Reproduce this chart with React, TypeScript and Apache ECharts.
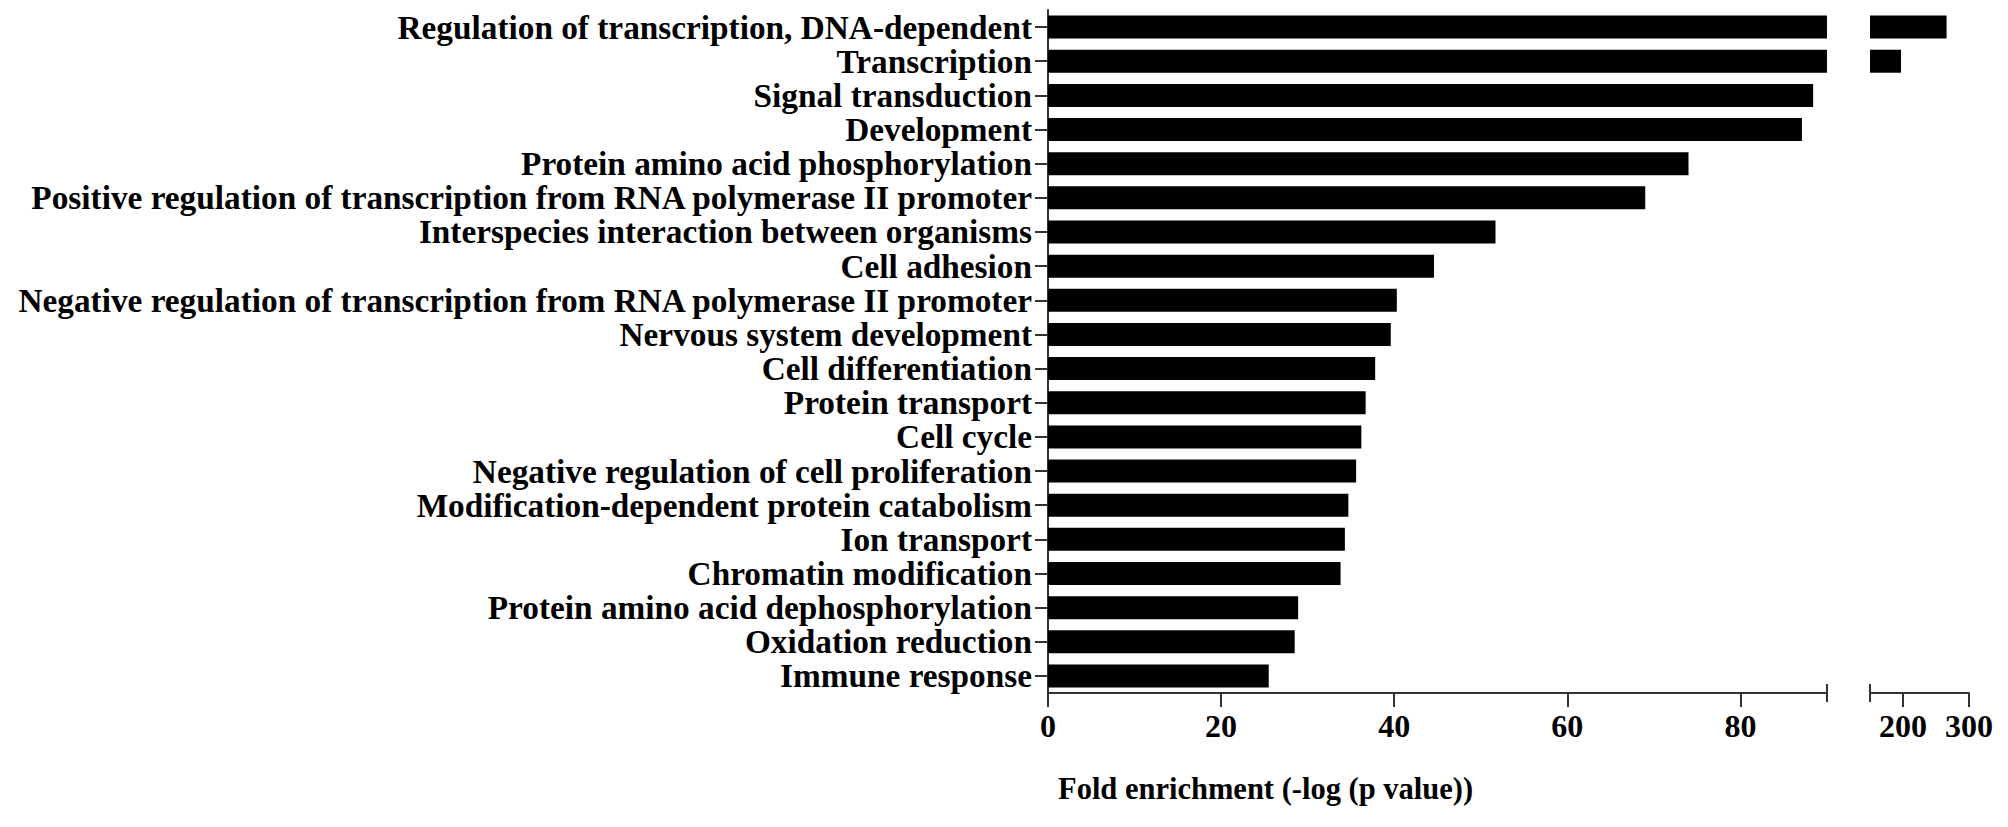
import React, { useEffect, useRef } from "react";
import * as echarts from "echarts";

const categories: string[] = [
  "Regulation of transcription, DNA-dependent",
  "Transcription",
  "Signal transduction",
  "Development",
  "Protein amino acid phosphorylation",
  "Positive regulation of transcription from RNA polymerase II promoter",
  "Interspecies interaction between organisms",
  "Cell adhesion",
  "Negative regulation of transcription from RNA polymerase II promoter",
  "Nervous system development",
  "Cell differentiation",
  "Protein transport",
  "Cell cycle",
  "Negative regulation of cell proliferation",
  "Modification-dependent protein catabolism",
  "Ion transport",
  "Chromatin modification",
  "Protein amino acid dephosphorylation",
  "Oxidation reduction",
  "Immune response",
];

const values: number[] = [
  266, 197, 88.4, 87.1, 74.0, 69.0, 51.7, 44.6, 40.3, 39.6, 37.8, 36.7, 36.2,
  35.6, 34.7, 34.3, 33.8, 28.9, 28.5, 25.5,
];

const leftTicks: number[] = [0, 20, 40, 60, 80];
const rightTicks: number[] = [200, 300];
const leftRange: number[] = [0, 90];
const rightRange: number[] = [150, 300];

const axisName = "Fold enrichment (-log (p value))";

const FONT = "'Liberation Serif', 'Times New Roman', serif";
const AXIS_COLOR = "#333";

export default function App() {
  const ref = useRef<HTMLDivElement>(null);

  useEffect(() => {
    if (!ref.current) return;
    const chart = echarts.init(ref.current, undefined, { renderer: "svg" });

    const gridTop = 10;
    const gridHeight = 683;

    const mainX = (gridIndex: number, range: number[], ticks: number[], labels: number[]) => ({
      type: "value",
      gridIndex,
      position: "bottom",
      min: range[0],
      max: range[1],
      splitLine: { show: false },
      axisLine: { show: true, lineStyle: { color: AXIS_COLOR, width: 2 } },
      axisTick: {
        show: true,
        customValues: ticks,
        length: 14,
        lineStyle: { color: AXIS_COLOR, width: 2 },
      },
      axisLabel: {
        show: true,
        customValues: labels,
        fontFamily: FONT,
        fontWeight: "bold",
        fontSize: 32,
        color: "#000",
        margin: 17,
      },
    });

    const breakX = (gridIndex: number, range: number[], at: number[]) => ({
      type: "value",
      gridIndex,
      position: "bottom",
      offset: -9,
      min: range[0],
      max: range[1],
      splitLine: { show: false },
      axisLine: { show: false },
      axisTick: {
        show: true,
        customValues: at,
        length: 18,
        lineStyle: { color: AXIS_COLOR, width: 2 },
      },
      axisLabel: { show: false },
    });

    chart.setOption({
      animation: false,
      backgroundColor: "#fff",
      grid: [
        { left: 1048, top: gridTop, width: 779, height: gridHeight },
        { left: 1870, top: gridTop, width: 99, height: gridHeight },
      ],
      xAxis: [
        mainX(0, leftRange, [...leftTicks], leftTicks),
        mainX(1, rightRange, rightTicks, rightTicks),
        breakX(0, leftRange, [leftRange[1]]),
        breakX(1, rightRange, [rightRange[0]]),
      ],
      yAxis: [
        {
          type: "category",
          gridIndex: 0,
          data: categories,
          inverse: true,
          axisLine: { show: true, lineStyle: { color: AXIS_COLOR, width: 2 } },
          axisTick: {
            show: true,
            alignWithLabel: true,
            interval: 0,
            length: 13,
            lineStyle: { color: AXIS_COLOR, width: 2 },
          },
          axisLabel: {
            interval: 0,
            hideOverlap: false,
            fontFamily: FONT,
            fontWeight: "bold",
            fontSize: 33.3,
            color: "#000",
            margin: 16,
          },
        },
        {
          type: "category",
          gridIndex: 1,
          data: categories,
          inverse: true,
          show: false,
        },
      ],
      series: [
        {
          type: "bar",
          xAxisIndex: 0,
          yAxisIndex: 0,
          data: values,
          barWidth: 23,
          clip: true,
          itemStyle: { color: "#000" },
        },
        {
          type: "bar",
          xAxisIndex: 1,
          yAxisIndex: 1,
          data: values,
          barWidth: 23,
          clip: true,
          itemStyle: { color: "#000" },
        },
      ],
      graphic: [
        {
          type: "text",
          left: 1058,
          top: 773,
          style: {
            text: axisName,
            fontFamily: FONT,
            fontWeight: "bold",
            fontSize: 30.5,
            fill: "#000",
          },
        },
      ],
    });

    return () => chart.dispose();
  }, []);

  return (
    <div
      ref={ref}
      style={{ position: "absolute", left: 0, top: 0, width: 2008, height: 827 }}
    />
  );
}
